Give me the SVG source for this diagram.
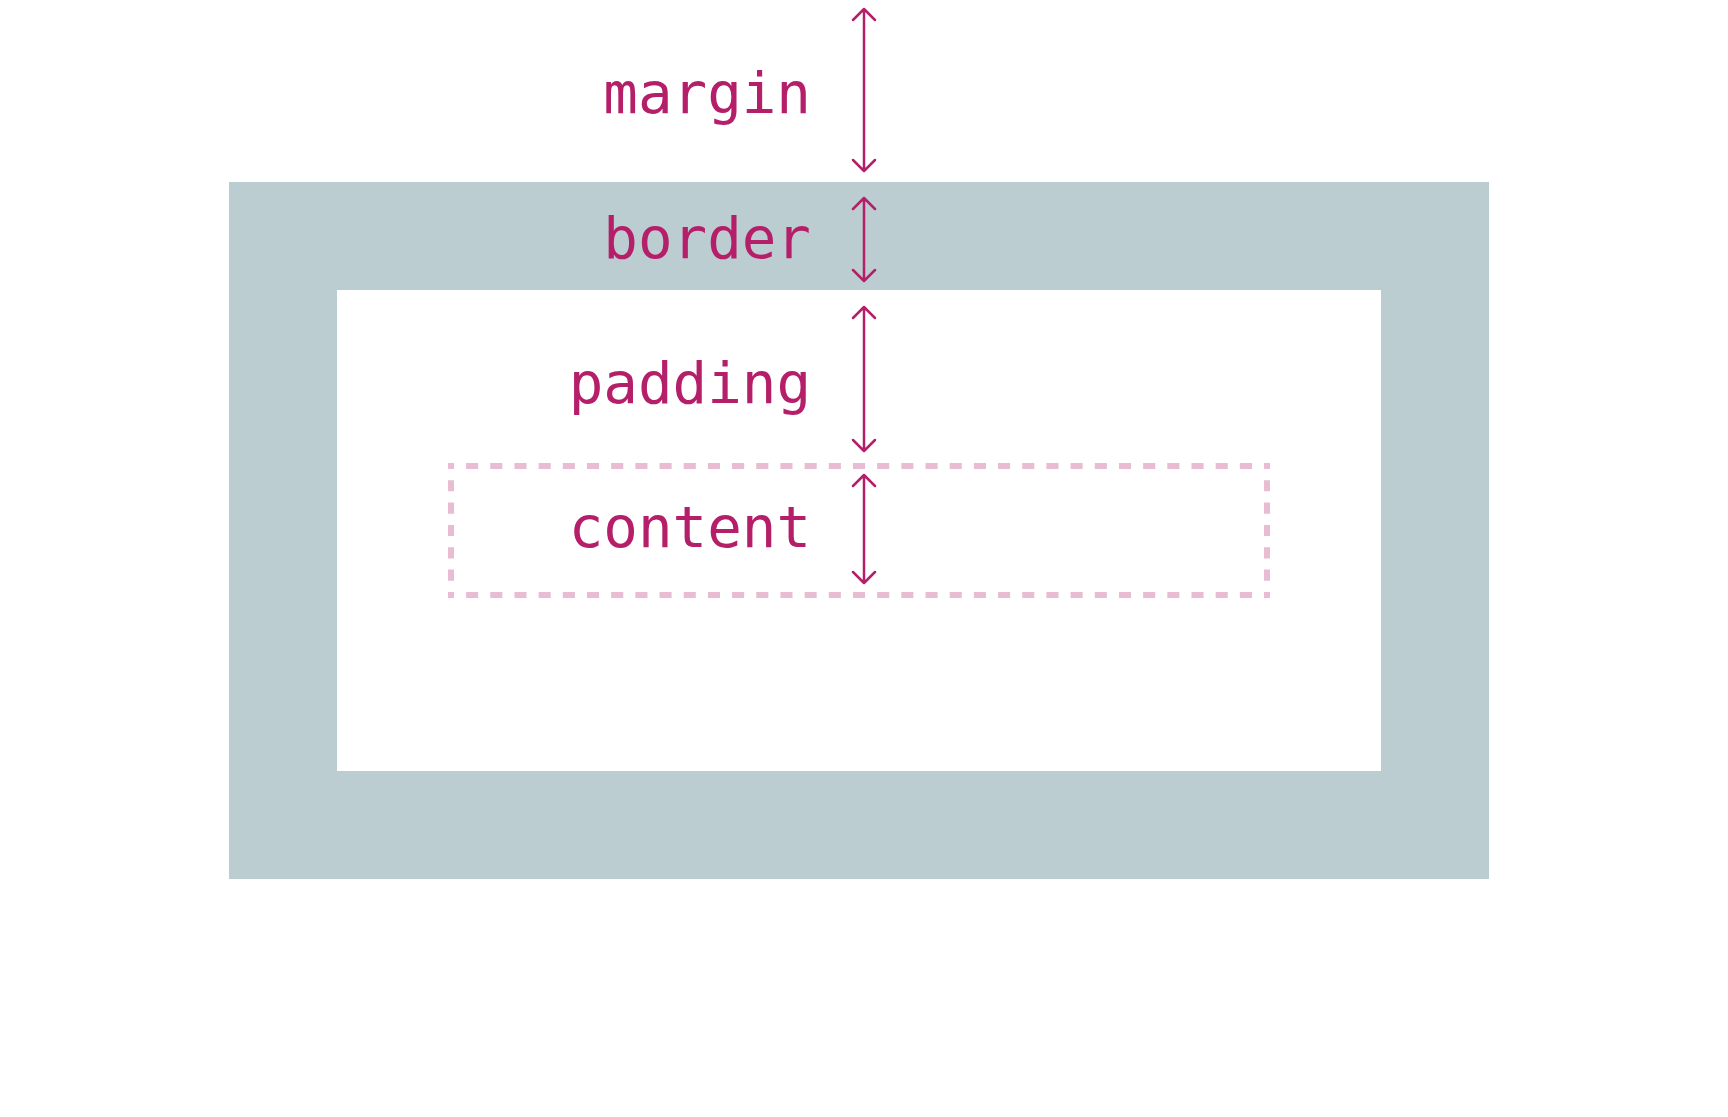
<svg xmlns="http://www.w3.org/2000/svg" width="1728" height="1117" viewBox="0 0 1728 1117">
<style>
.lbl{font-family:"DejaVu Sans Mono","Liberation Mono",monospace;font-size:57.5px;fill:#B51F69;text-anchor:end}
.arr{fill:none;stroke:#B51F69;stroke-width:2.5;stroke-linecap:round;stroke-linejoin:round}
.dh{stroke:#E8BCD3;stroke-width:6;stroke-dasharray:12.09 12.09;stroke-dashoffset:6.09}
.dv{stroke:#E8BCD3;stroke-width:6;stroke-dasharray:11.18 11.18;stroke-dashoffset:5.18}
</style>
<rect width="1728" height="1117" fill="#FFFFFF"/>
<g id="border-box">
<rect x="229" y="182" width="1260" height="697" fill="#BCCDD2"/>
</g>
<g id="padding-box">
<rect x="337" y="290" width="1044" height="481" fill="#FFFFFF"/>
</g>
<g id="content-box">
<line class="dh" x1="448" y1="466" x2="1270" y2="466"/>
<line class="dh" x1="448" y1="595" x2="1270" y2="595"/>
<line class="dv" x1="451" y1="463" x2="451" y2="598"/>
<line class="dv" x1="1267" y1="463" x2="1267" y2="598"/>
</g>
<g id="labels">
<text id="margin" class="lbl" x="811" y="113">margin</text>
<text id="border" class="lbl" x="811" y="258">border</text>
<text id="padding" class="lbl" x="811" y="403">padding</text>
<text id="content" class="lbl" x="811" y="547">content</text>
</g>
<g id="connectors">
<path class="arr" d="M864 9V171M853 20L864 9L875 20M853 160L864 171L875 160"/>
<path class="arr" d="M864 198V281M853 209L864 198L875 209M853 270L864 281L875 270"/>
<path class="arr" d="M864 307V451M853 318L864 307L875 318M853 440L864 451L875 440"/>
<path class="arr" d="M864 475V583M853 486L864 475L875 486M853 572L864 583L875 572"/>
</g>
</svg>
